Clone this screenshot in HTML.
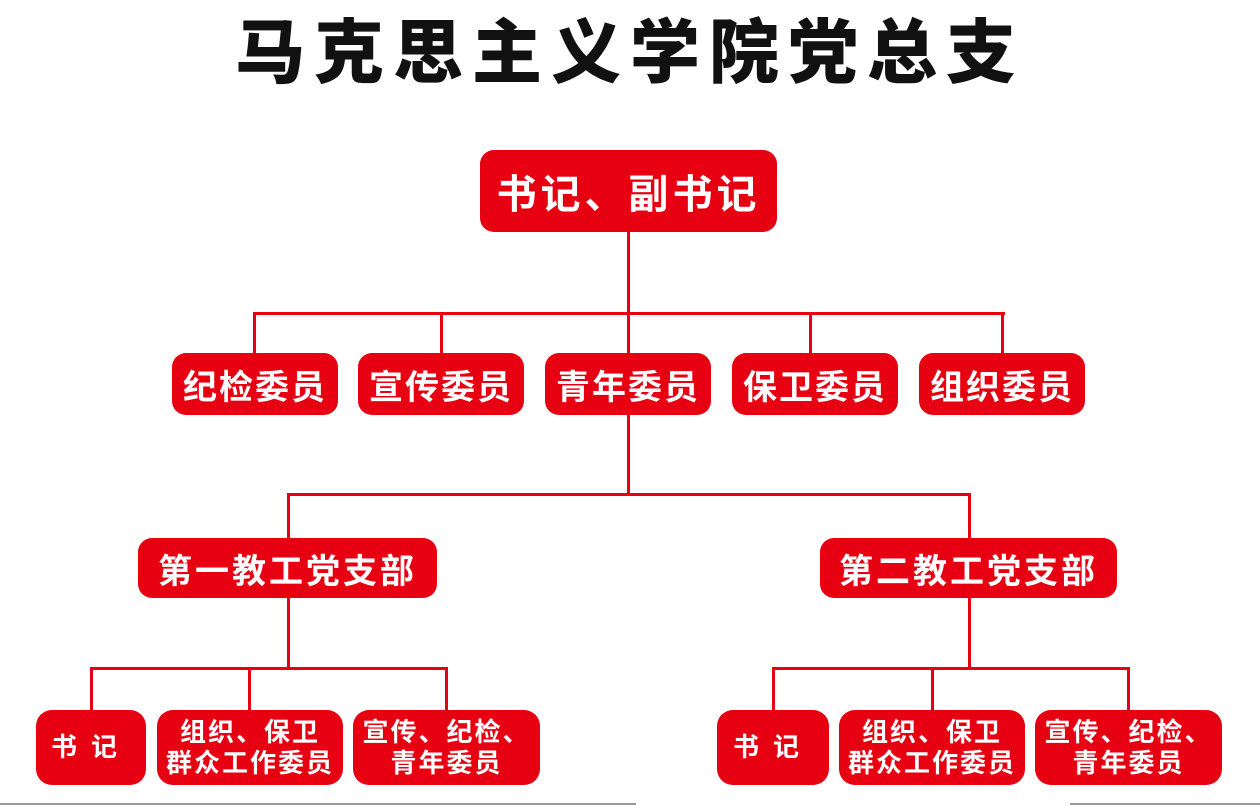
<!DOCTYPE html><html><head><meta charset="utf-8"><style>
body{margin:0;width:1260px;height:806px;background:#fff;position:relative;overflow:hidden;font-family:"Liberation Sans","Noto Sans CJK SC",sans-serif}
.t{position:absolute;left:0;width:1260px;top:8px;text-align:center;font-size:70px;font-weight:900;color:#111;letter-spacing:9px;line-height:90px}
.b{position:absolute;background:#e60012;border-radius:14px;color:#fff;font-weight:700;display:flex;align-items:center;justify-content:center;text-align:center;letter-spacing:2px}
.l{position:absolute;background:#e60012}
.s{font-size:26px;line-height:31px;border-radius:16px}
</style></head><body>
<div class="t">马克思主义学院党总支</div>
<div class="b" style="left:480px;top:150px;width:297px;height:82px;font-size:40px;letter-spacing:4px">书记、副书记</div>
<div class="l" style="left:627px;top:232px;width:3px;height:82px"></div>
<div class="l" style="left:253px;top:312px;width:752px;height:3px"></div>
<div class="l" style="left:253px;top:312px;width:3px;height:42px"></div>
<div class="l" style="left:440px;top:312px;width:3px;height:42px"></div>
<div class="l" style="left:627px;top:312px;width:3px;height:42px"></div>
<div class="l" style="left:809px;top:312px;width:3px;height:42px"></div>
<div class="l" style="left:1001px;top:312px;width:3px;height:42px"></div>
<div class="b" style="left:172px;top:353px;width:166px;height:62px;font-size:34px">纪检委员</div>
<div class="b" style="left:358px;top:353px;width:166px;height:62px;font-size:34px">宣传委员</div>
<div class="b" style="left:545px;top:353px;width:166px;height:62px;font-size:34px">青年委员</div>
<div class="b" style="left:732px;top:353px;width:166px;height:62px;font-size:34px">保卫委员</div>
<div class="b" style="left:919px;top:353px;width:166px;height:62px;font-size:34px">组织委员</div>
<div class="l" style="left:627px;top:415px;width:3px;height:80px"></div>
<div class="l" style="left:287px;top:493px;width:684px;height:3px"></div>
<div class="l" style="left:287px;top:493px;width:3px;height:46px"></div>
<div class="l" style="left:968px;top:493px;width:3px;height:46px"></div>
<div class="b" style="left:138px;top:538px;width:299px;height:60px;font-size:34px;letter-spacing:3px">第一教工党支部</div>
<div class="b" style="left:820px;top:538px;width:297px;height:60px;font-size:34px;letter-spacing:3px">第二教工党支部</div>
<div class="l" style="left:287px;top:598px;width:3px;height:71px"></div>
<div class="l" style="left:90px;top:667px;width:358px;height:3px"></div>
<div class="l" style="left:90px;top:667px;width:3px;height:44px"></div>
<div class="l" style="left:248px;top:667px;width:3px;height:44px"></div>
<div class="l" style="left:445px;top:667px;width:3px;height:44px"></div>
<div class="l" style="left:968px;top:598px;width:3px;height:71px"></div>
<div class="l" style="left:772px;top:667px;width:358px;height:3px"></div>
<div class="l" style="left:772px;top:667px;width:3px;height:44px"></div>
<div class="l" style="left:931px;top:667px;width:3px;height:44px"></div>
<div class="l" style="left:1127px;top:667px;width:3px;height:44px"></div>
<div class="b s" style="left:36px;top:710px;width:110px;height:75px;letter-spacing:14px">书记</div>
<div class="b s" style="left:157px;top:710px;width:186px;height:75px">组织、保卫<br>群众工作委员</div>
<div class="b s" style="left:353px;top:710px;width:187px;height:75px">宣传、纪检、<br>青年委员</div>
<div class="b s" style="left:717px;top:710px;width:112px;height:75px;letter-spacing:14px">书记</div>
<div class="b s" style="left:839px;top:710px;width:186px;height:75px">组织、保卫<br>群众工作委员</div>
<div class="b s" style="left:1035px;top:710px;width:187px;height:75px">宣传、纪检、<br>青年委员</div>
<div style="position:absolute;left:0;top:803px;width:636px;height:2px;background:#999"></div>
<div style="position:absolute;left:1070px;top:803px;width:190px;height:2px;background:#999"></div>
</body></html>
